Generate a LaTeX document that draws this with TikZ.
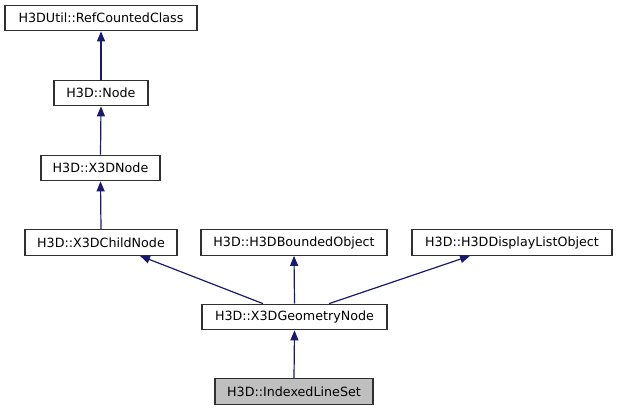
\documentclass[tikz,border=0pt]{standalone}
\usepackage{fontspec}
\setmainfont{DejaVu Sans}
\usetikzlibrary{arrows.meta,calc}
\definecolor{edgeblue}{RGB}{25,25,112}
\definecolor{boxline}{RGB}{48,48,48}
\definecolor{hilite}{RGB}{191,191,191}
\begin{document}
\begin{tikzpicture}[x=1pt,y=-1pt,
  cls/.style={draw=boxline,line width=1.2pt,fill=white,inner sep=0pt,minimum height=25.5pt,font=\fontsize{12.7}{14}\selectfont},
  inh/.style={draw=edgeblue,line width=1.2pt,-{Triangle[length=10pt,width=8pt]}}]
\useasboundingbox (0,0) rectangle (617,411);
\node[cls,minimum width=192pt] (rc) at (101,18) {H3DUtil::RefCountedClass};
\node[cls,minimum width=94pt] (nd) at (101,93) {H3D::Node};
\node[cls,minimum width=119pt] (x3d) at (100.5,168) {H3D::X3DNode};
\node[cls,minimum width=152pt] (child) at (101,242.5) {H3D::X3DChildNode};
\node[cls,minimum width=186pt] (bnd) at (294,242.5) {H3D::H3DBoundedObject};
\node[cls,minimum width=200pt] (dlo) at (512,242.5) {H3D::H3DDisplayListObject};
\node[cls,minimum width=185pt] (geom) at (294.5,317) {H3D::X3DGeometryNode};
\node[cls,minimum width=158pt,fill=hilite] (ils) at (294,391.5) {H3D::IndexedLineSet};
\draw[inh] (nd.north) -- (rc.south);
\draw[inh] (x3d.north) -- (nd.south);
\draw[inh] (child.north) -- (x3d.south);
\draw[inh] ($(geom.north)+(-31.5,0)$) -- ($(child.south)+(39,0)$);
\draw[inh] (geom.north) -- (bnd.south);
\draw[inh] ($(geom.north)+(34.5,0)$) -- ($(dlo.south)+(-42,0)$);
\draw[inh] (ils.north) -- (geom.south);
\end{tikzpicture}
\end{document}
